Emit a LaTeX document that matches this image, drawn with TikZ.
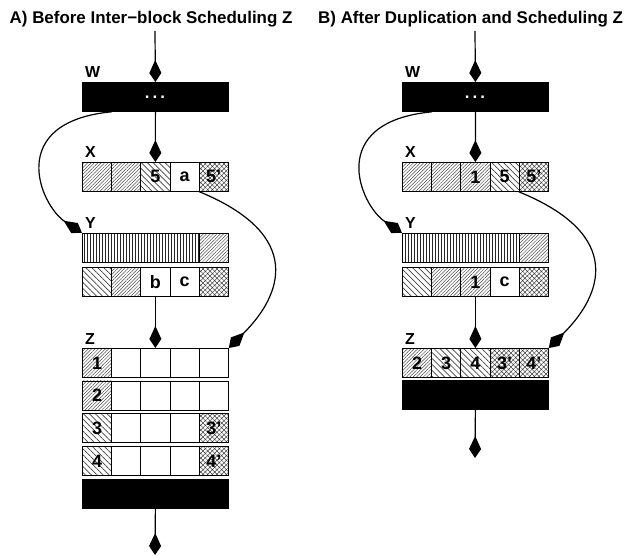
\documentclass[tikz,border=0pt]{standalone}
\usepackage{fontspec}
\setmainfont{Liberation Sans}[BoldFont={Liberation Sans Bold}]
\newfontfamily\boldsans{Liberation Sans Bold}
\usetikzlibrary{patterns.meta,arrows.meta}

\tikzset{
  cell/.style={draw, line width=0.8bp, minimum width=29.2bp, minimum height=29bp,
    anchor=north west, inner sep=0pt, font=\boldsans\fontsize{18}{18}\selectfont},
  ne/.style={pattern={Lines[angle=45,distance=2.4bp,line width=0.5bp]}, pattern color=black!70},
  nw/.style={pattern={Lines[angle=-45,distance=4.2bp,line width=0.7bp]}, pattern color=black!75},
  xh/.style={pattern={Hatch[angle=45,distance=3.3bp,line width=0.5bp]}, pattern color=black!75},
  vl/.style={pattern={Lines[angle=90,distance=3bp,line width=0.6bp]}, pattern color=black!85},
  wh/.style={fill=white},
  bar/.style={draw, fill=black, line width=0.8bp, minimum width=146bp, minimum height=29bp,
    anchor=north west, inner sep=0pt},
  lbl/.style={font=\boldsans\fontsize{16}{16}\selectfont, anchor=base west, inner sep=0pt},
  ttl/.style={font=\boldsans\fontsize{17}{17}\selectfont, anchor=base west, inner sep=0pt},
  arr/.style={line width=1.2bp, -{Kite[length=22bp,width=12bp,inset=13bp]}},
  dots/.style={text=white, font=\boldsans\fontsize{17}{17}\selectfont, inner sep=0pt},
}

% one row of five cells: #1 name prefix, #2 left x, #3 top y, #4 style/text list
\newcommand\cellrow[4]{%
  \foreach[count=\ci] \cstyle/\ctext in {#4}{%
    \node[cell,\cstyle] (#1\ci) at ({#2+(\ci-1)*29.2},#3) {\ctext};}}

\begin{document}
\begin{tikzpicture}[x=1bp,y=-1bp]
\useasboundingbox (0,0) rectangle (635,556);

% ---------------- panel A ----------------
\node[ttl] (LT) at (9.5,24) {A) Before Inter−block Scheduling Z};

\node[bar] (LW) at (82,82) {};
\node[dots] (LWd) at (155,97) {.\hspace{3bp}.\hspace{3bp}.};
\node[lbl] (LWl) at (85,78) {W};

\node[lbl] (LXl) at (85,158) {X};
\cellrow{LX}{82}{162}{ne/{}, ne/{}, nw/5, wh/a, xh/5’}

\node[lbl] (LYl) at (85,229) {Y};
\node[cell, vl, minimum width=116.8bp] (LY) at (82,233) {};
\node[cell, ne] (LY5) at (198.8,233) {};
\cellrow{LYb}{82}{267}{nw/{}, ne/{}, wh/b, wh/c, xh/{}}

\node[lbl] (LZl) at (85,344) {Z};
\cellrow{LZa}{82}{348}{ne/1, wh/{}, wh/{}, wh/{}, wh/{}}
\cellrow{LZb}{82}{380.5}{ne/2, wh/{}, wh/{}, wh/{}, wh/{}}
\cellrow{LZc}{82}{413}{nw/3, wh/{}, wh/{}, wh/{}, xh/3’}
\cellrow{LZd}{82}{446}{nw/4, wh/{}, wh/{}, wh/{}, xh/4’}
\node[bar] (LZe) at (82,479) {};

\coordinate (LIn) at (155,31);
\coordinate (LOut) at (155,555);
\draw[arr] (LIn) -- (LW.north);
\draw[arr] (LW.south) -- (LX3.north);
\draw[arr] (LYb3.south) -- (LZa3.north);
\draw[arr] (LZe.south) -- (LOut);
\draw[arr] (LX1.north east |- LW.south) .. controls (5,122) and (40,205) .. (LY.north west);
\draw[arr] (LX5.south west) .. controls (305,235) and (282,295) .. (LZa5.north east);

% ---------------- panel B ----------------
\begin{scope}[xshift=320bp]
\node[ttl] (RT) at (-2,24) {B) After Duplication and Scheduling Z};

\node[bar] (RW) at (82,82) {};
\node[dots] (RWd) at (155,97) {.\hspace{3bp}.\hspace{3bp}.};
\node[lbl] (RWl) at (85,78) {W};

\node[lbl] (RXl) at (85,158) {X};
\cellrow{RX}{82}{162}{ne/{}, ne/{}, ne/1, nw/5, xh/5’}

\node[lbl] (RYl) at (85,229) {Y};
\node[cell, vl, minimum width=116.8bp] (RY) at (82,233) {};
\node[cell, ne] (RY5) at (198.8,233) {};
\cellrow{RYb}{82}{267}{nw/{}, ne/{}, ne/1, wh/c, xh/{}}

\node[lbl] (RZl) at (85,344) {Z};
\cellrow{RZa}{82}{348}{ne/2, nw/3, nw/4, xh/3’, xh/4’}
\node[bar] (RZe) at (82,380) {};

\coordinate (RIn) at (155,31);
\coordinate (ROut) at (155,458);
\draw[arr] (RIn) -- (RW.north);
\draw[arr] (RW.south) -- (RX3.north);
\draw[arr] (RYb3.south) -- (RZa3.north);
\draw[arr] (RZe.south) -- (ROut);
\draw[arr] (RX1.north east |- RW.south) .. controls (5,122) and (40,205) .. (RY.north west);
\draw[arr] (RX5.south west) .. controls (305,235) and (282,295) .. (RZa5.north east);
\end{scope}
\end{tikzpicture}
\end{document}
